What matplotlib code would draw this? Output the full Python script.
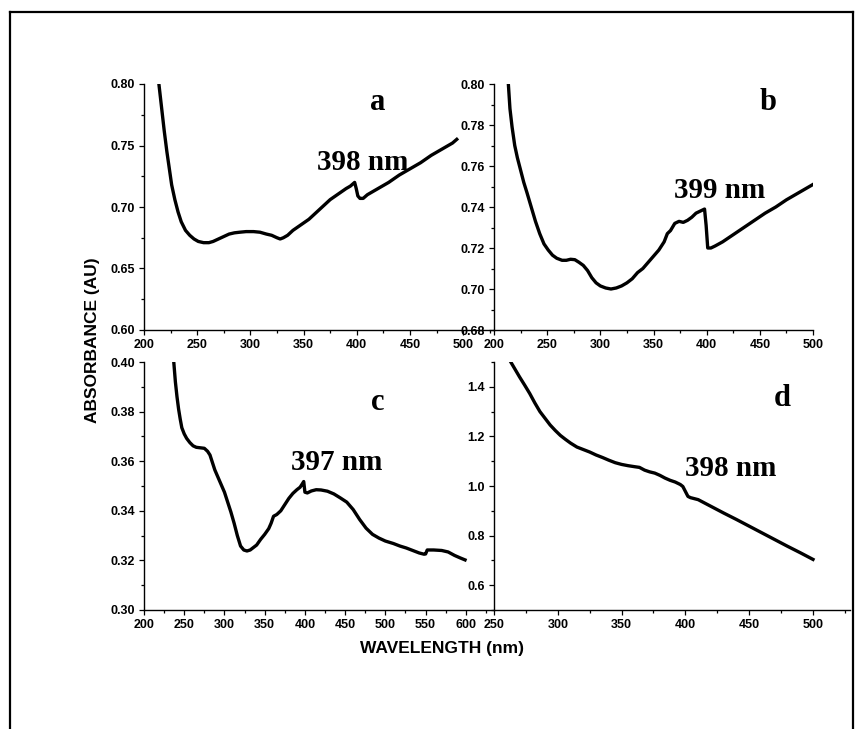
import matplotlib
matplotlib.use("Agg")
import matplotlib.pyplot as plt
from matplotlib.lines import Line2D
from matplotlib.ticker import MultipleLocator

# ---- spectra (wavelength in nm, absorbance in AU) ----
wl_a = [214, 216.5, 219, 221.5, 224, 226, 229, 232, 235, 239,
        243, 247, 251, 256, 261, 265, 270, 275, 280, 285,
        290, 296, 303, 309, 315, 320, 325, 328, 331, 335,
        340, 345, 350, 355, 360, 365, 370, 375, 380, 385,
        390, 394, 398, 399.5, 401, 403, 406, 410, 420, 430,
        440, 450, 460, 470, 480, 490, 494]
abs_a = [0.800, 0.781, 0.762, 0.745, 0.730, 0.718, 0.706, 0.696, 0.688, 0.681,
         0.677, 0.674, 0.672, 0.671, 0.671, 0.672, 0.674, 0.676, 0.678, 0.679,
         0.6795, 0.680, 0.680, 0.6795, 0.678, 0.677, 0.675, 0.674, 0.675, 0.677,
         0.681, 0.684, 0.687, 0.690, 0.694, 0.698, 0.702, 0.706, 0.709, 0.712,
         0.715, 0.717, 0.720, 0.715, 0.709, 0.707, 0.707, 0.710, 0.715, 0.720,
         0.726, 0.731, 0.736, 0.742, 0.747, 0.752, 0.755]

wl_b = [213.5, 215, 217, 219.5, 222, 225, 228, 231, 235, 239,
        243, 247, 251, 255, 259, 264, 268, 272, 276, 280,
        284, 288, 292, 296, 300, 305, 310, 315, 320, 325,
        330, 335, 340, 345, 350, 355, 360, 363, 366, 370,
        374, 378, 382, 386, 390, 394, 398, 399.5, 401, 404,
        408, 415, 425, 435, 445, 455, 465, 475, 485, 495,
        500]
abs_b = [0.800, 0.788, 0.779, 0.770, 0.764, 0.758, 0.752, 0.747, 0.740, 0.733,
         0.727, 0.722, 0.719, 0.7165, 0.715, 0.714, 0.714, 0.7145, 0.7143, 0.713,
         0.7115, 0.709, 0.7055, 0.703, 0.7015, 0.7005, 0.700, 0.7005, 0.7015, 0.703,
         0.705, 0.708, 0.710, 0.713, 0.716, 0.719, 0.723, 0.727, 0.7285, 0.732,
         0.733, 0.7325, 0.7335, 0.735, 0.737, 0.738, 0.739, 0.731, 0.720, 0.720,
         0.721, 0.723, 0.7265, 0.730, 0.7335, 0.737, 0.740, 0.7435, 0.7465, 0.7495,
         0.751]

wl_c = [237, 239, 241, 243, 245, 247, 250, 253, 257, 261,
        265, 270, 275, 279, 282, 285, 288, 292, 296, 300,
        304, 308, 312, 316, 320, 324, 328, 332, 336, 340,
        345, 350, 355, 358, 361, 365, 370, 375, 380, 385,
        390, 394, 397, 398.5, 400, 403, 408, 414, 420, 428,
        436, 444, 452, 460, 468, 476, 484, 492, 500, 510,
        518, 526, 534, 542, 548, 550, 552, 560, 570, 578,
        586, 593, 599]
abs_c = [0.400, 0.392, 0.386, 0.381, 0.377, 0.3735, 0.3710, 0.3692, 0.3675, 0.3662,
         0.3656, 0.3654, 0.3652, 0.3640, 0.3625, 0.3595, 0.3565, 0.3535, 0.3505, 0.3475,
         0.3435, 0.3395, 0.3350, 0.3300, 0.3258, 0.3242, 0.3238, 0.3242, 0.3252, 0.3262,
         0.3285, 0.3305, 0.3328, 0.3350, 0.3378, 0.3385, 0.3400, 0.3425, 0.3450, 0.3470,
         0.3485, 0.3495, 0.3510, 0.3518, 0.3475, 0.3472, 0.3480, 0.3485, 0.3484, 0.3479,
         0.3468, 0.3452, 0.3435, 0.3405, 0.3365, 0.3330, 0.3305, 0.3290, 0.3278, 0.3268,
         0.3258, 0.3250, 0.3240, 0.3230, 0.3225, 0.3226, 0.3242, 0.3242, 0.3240, 0.3234,
         0.3220, 0.3210, 0.3202]

wl_d = [262, 266, 270, 274, 278, 282, 286, 290, 294, 298,
        302, 306, 310, 315, 320, 325, 330, 335, 340, 345,
        350, 355, 360, 364, 368, 372, 376, 380, 384, 388,
        392, 396, 398, 400, 402, 404, 410, 420, 430, 440,
        450, 460, 470, 480, 490, 500]
abs_d = [1.510, 1.475, 1.440, 1.407, 1.373, 1.335, 1.300, 1.273, 1.246, 1.224,
         1.204, 1.188, 1.173, 1.157, 1.147, 1.137, 1.125, 1.115, 1.104, 1.094,
         1.087, 1.082, 1.078, 1.075, 1.064, 1.057, 1.052, 1.043, 1.032, 1.023,
         1.016, 1.006, 0.998, 0.978, 0.958, 0.953, 0.945, 0.918, 0.891, 0.865,
         0.838, 0.811, 0.784, 0.757, 0.731, 0.704]

panel_letters = ["a", "b", "c", "d"]
peak_labels = ["398 nm", "399 nm", "397 nm", "398 nm"]

W, H = 865, 729
fig = plt.figure(figsize=(W / 100, H / 100), dpi=100)

SANS = "Liberation Sans"
SERIF = "Liberation Serif"


def px_axes(left, top, right, bottom):
    return fig.add_axes([left / W, 1 - bottom / H, (right - left) / W, (bottom - top) / H])


def style(ax, xlim, ylim, xmaj, ymaj, yfmt):
    ax.set_xlim(*xlim)
    ax.set_ylim(*ylim)
    for s in ("top", "right"):
        ax.spines[s].set_visible(False)
    for s in ("left", "bottom"):
        ax.spines[s].set_linewidth(1.0)
    ax.xaxis.set_major_locator(MultipleLocator(xmaj))
    ax.xaxis.set_minor_locator(MultipleLocator(xmaj / 2))
    ax.yaxis.set_major_locator(MultipleLocator(ymaj))
    ax.yaxis.set_minor_locator(MultipleLocator(ymaj / 2))
    ax.tick_params(which="major", direction="out", length=3.5, width=0.9, pad=3)
    ax.tick_params(which="minor", direction="out", length=2.5, width=0.9)
    ax.yaxis.set_major_formatter(plt.FormatStrFormatter(yfmt))


# panel layout in pixel coordinates
ax_a = px_axes(144, 84, 494, 330)
ax_b = px_axes(494, 84, 813, 330)
ax_c = px_axes(144, 362, 494, 610)
ax_d = px_axes(494, 362, 850, 610)

ax_a.plot(wl_a, abs_a, color="black", lw=2.4, solid_joinstyle="round")
style(ax_a, (200, 529), (0.60, 0.80), 50, 0.05, "%.2f")
ax_a.set_xticks([200, 250, 300, 350, 400, 450, 500])

ax_b.plot(wl_b, abs_b, color="black", lw=2.4, solid_joinstyle="round")
style(ax_b, (200, 500), (0.68, 0.80), 50, 0.02, "%.2f")

ax_c.plot(wl_c, abs_c, color="black", lw=2.4, solid_joinstyle="round")
style(ax_c, (200, 635), (0.30, 0.40), 50, 0.02, "%.2f")
ax_c.set_xticks(list(range(200, 601, 50)))

ax_d.plot(wl_d, abs_d, color="black", lw=2.4, solid_joinstyle="round")
style(ax_d, (250, 529), (0.5, 1.5), 50, 0.2, "%.1f")
ax_d.set_xticks([250, 300, 350, 400, 450, 500])
ax_d.set_yticks([0.6, 0.8, 1.0, 1.2, 1.4])

for ax in (ax_a, ax_b, ax_c, ax_d):
    for lab in ax.get_xticklabels() + ax.get_yticklabels():
        lab.set_fontfamily(SANS)
        lab.set_fontweight("bold")
        lab.set_fontsize(9)


def fig_text(x, y, s, **kw):
    fig.text(x / W, 1 - y / H, s, ha="center", va="center", **kw)


# panel letters and peak annotations
letter_pos = [(378, 102), (768, 102), (378, 402), (782, 398)]
peak_pos = [(363, 163), (720, 191), (337, 463), (731, 469)]
for (lx, ly), letter in zip(letter_pos, panel_letters):
    fig_text(lx, ly, letter, family=SERIF, weight="bold", fontsize=22)
for (px, py), lab in zip(peak_pos, peak_labels):
    fig_text(px, py, lab, family=SERIF, weight="bold", fontsize=21)

# shared axis titles
fig_text(442, 648, "WAVELENGTH (nm)", family=SANS, weight="bold", fontsize=12.5)
fig_text(93, 340, "ABSORBANCE (AU)", family=SANS, weight="bold", fontsize=12.5,
         rotation=90)

# outer frame (open at the bottom)
frame_kw = dict(color="black", lw=1.6, transform=fig.transFigure)
fig.add_artist(Line2D([10 / W, 10 / W], [0, 1 - 12 / H], **frame_kw))
fig.add_artist(Line2D([10 / W, 853 / W], [1 - 12 / H, 1 - 12 / H], **frame_kw))
fig.add_artist(Line2D([853 / W, 853 / W], [0, 1 - 12 / H], **frame_kw))

fig.savefig("out.png", dpi=100, facecolor="white")
